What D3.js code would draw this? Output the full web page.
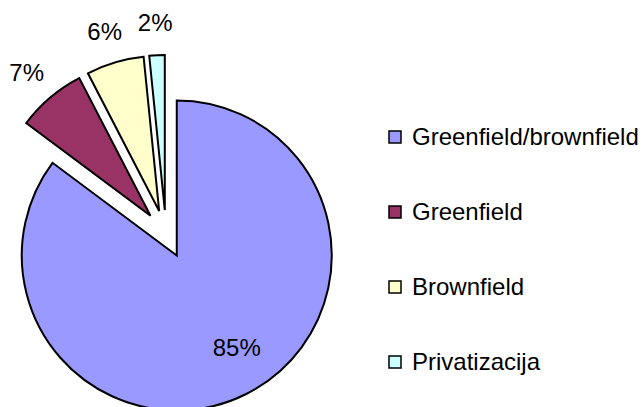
<!DOCTYPE html>
<html>
<head>
  <meta charset="utf-8">
  <script src="https://d3js.org/d3.v7.min.js"></script>
  <style>
    body { margin:0; background:#fff; }
    text { font-family: "Liberation Sans", Arial, Helvetica; fill:#000; }
  </style>
</head>
<body>
  <div id="container"></div>
  <script type="text/javascript">

    var w = 643,
        h = 407;

    // data
    var categories = ['Greenfield/brownfield', 'Greenfield', 'Brownfield', 'Privatizacija'];
    var values = [85.2, 7.2, 6.0, 1.6];
    var colors = ['#9999FF', '#993366', '#FFFFCC', '#CCFFFF'];

    var cx = 166, cy = 234, r = 155, explode = 24;
    var fontSize = 24;

    var svg = d3.select("div#container").append("svg")
        .attr("width", w)
        .attr("height", h);

    var pie = d3.pie().sort(null).value(function(d) { return d; });
    var arc = d3.arc().innerRadius(0).outerRadius(r);
    var arcs = pie(values);

    function mid(d) { return (d.startAngle + d.endAngle) / 2; }

    var g = svg.append("g").attr("transform", "translate(" + cx + "," + cy + ")");

    g.selectAll("path")
        .data(arcs)
      .enter().append("path")
        .attr("d", arc)
        .attr("transform", function(d) {
          var a = mid(d);
          return "translate(" + (Math.sin(a) * explode) + "," + (-Math.cos(a) * explode) + ")";
        })
        .attr("fill", function(d, i) { return colors[i]; })
        .attr("stroke", "#000")
        .attr("stroke-width", 2)
        .attr("stroke-linejoin", "miter");

    // percentage labels
    var total = d3.sum(values);
    g.selectAll("text.lbl")
        .data(arcs)
      .enter().append("text")
        .attr("class", "lbl")
        .style("font-size", fontSize + "px")
        .attr("text-anchor", "middle")
        .attr("dominant-baseline", "central")
        .text(function(d) { return Math.round(d.value / total * 100) + "%"; })
        .each(function(d) {
          var a = mid(d), s = Math.sin(a), c = -Math.cos(a);
          var el = d3.select(this);
          var x, y;
          if (d.value / total > 0.5) {
            var rr = explode + r * 0.72;
            x = s * rr + 10; y = c * rr - 8;
          } else {
            var bb = this.getBBox();
            var ro = r + explode + 19;
            x = s * ro + s * bb.width / 2;
            y = c * ro + c * bb.height / 2;
          }
          el.attr("x", x).attr("y", y);
        });

    // legend
    var legend = svg.append("g").attr("transform", "translate(388,0)");
    var ly = d3.scalePoint().domain(categories).range([145, 370]);

    var item = legend.selectAll("g")
        .data(categories)
      .enter().append("g")
        .attr("transform", function(d) { return "translate(0," + ly(d) + ")"; });

    item.append("rect")
        .attr("x", 1)
        .attr("y", -14)
        .attr("width", 12)
        .attr("height", 12)
        .attr("fill", function(d, i) { return colors[i]; })
        .attr("stroke", "#000")
        .attr("stroke-width", 1.5);

    item.append("text")
        .attr("x", 24)
        .attr("y", 0)
        .style("font-size", fontSize + "px")
        .text(function(d) { return d; });

  </script>
</body>
</html>
